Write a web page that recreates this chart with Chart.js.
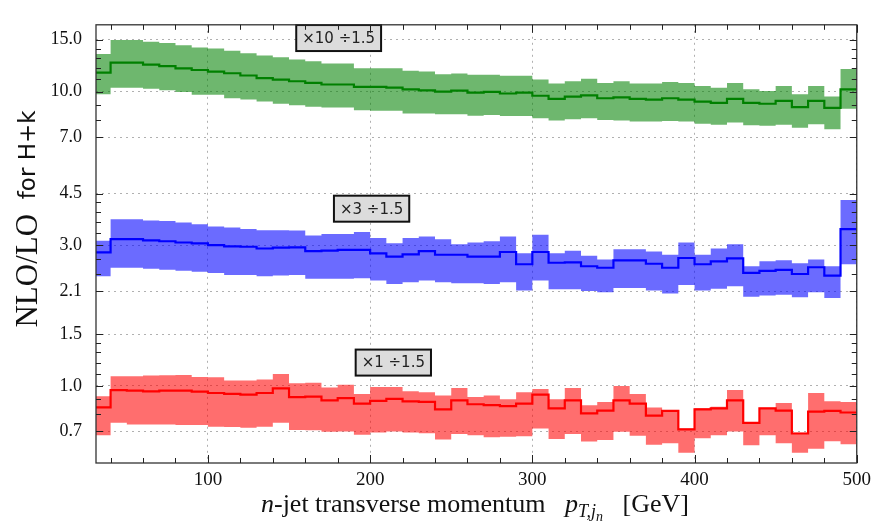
<!DOCTYPE html>
<html>
<head>
<meta charset="utf-8">
<script src="https://cdn.jsdelivr.net/npm/chart.js@4.4.0/dist/chart.umd.min.js"></script>
<style>
  html, body { margin: 0; padding: 0; background: #fff; }
  #wrap { width: 877px; height: 522px; }
</style>
</head>
<body>
<div id="wrap"><canvas id="ratioChart" width="877" height="522"></canvas></div>
<script>
// bin edges in GeV (left edge of each bin, plus the last right edge)
var binEdges = [30, 40, 50, 60, 70, 80, 90, 100, 110, 120, 130, 140, 150, 160, 170, 180,
  190, 200, 210, 220, 230, 240, 250, 260, 270, 280, 290, 300, 310, 320, 330, 340, 350,
  360, 370, 380, 390, 400, 410, 420, 430, 440, 450, 460, 470, 480, 490, 500];

var xTicks = [100, 200, 300, 400, 500];
var xMinor = [40, 60, 80, 120, 140, 160, 180, 220, 240, 260, 280, 320, 340, 360, 380,
  420, 440, 460, 480];
var yTicks = [0.7, 1.0, 1.5, 2.1, 3.0, 4.5, 7.0, 10.0, 15.0];
var yMinor = [0.8, 0.9, 1.1, 1.2, 1.3, 1.4, 2.4, 2.7, 3.3, 3.6, 3.9, 4.2,
  8, 9, 11, 12, 13, 14];

// x10 (green)
var greenMid = [11.6, 12.54, 12.54, 12.35, 12.2, 11.99, 11.84, 11.69, 11.54, 11.34, 11.11,
  10.98, 10.84, 10.7, 10.57, 10.57, 10.38, 10.38, 10.31, 10.18, 10.1, 10.0, 10.08, 9.92,
  9.97, 9.85, 9.92, 9.68, 9.44, 9.61, 9.7, 9.49, 9.56, 9.44, 9.39, 9.49, 9.39, 9.25, 9.16,
  9.44, 9.16, 9.09, 9.3, 8.86, 9.3, 8.8, 10.18];
var greenUp = [13.42, 14.96, 14.96, 14.77, 14.62, 14.37, 14.12, 14.01, 13.76, 13.49, 13.26,
  13.09, 12.86, 12.67, 12.45, 12.45, 11.99, 11.99, 11.99, 11.78, 11.69, 11.45, 11.51, 11.4,
  11.4, 11.31, 11.31, 10.98, 10.65, 10.84, 11.06, 10.7, 10.84, 10.65, 10.65, 10.78, 10.7,
  10.44, 10.31, 10.7, 10.18, 10.05, 10.44, 9.8, 10.44, 9.63, 11.93];
var greenLo = [9.8, 10.31, 10.31, 10.23, 10.1, 9.97, 9.75, 9.75, 9.49, 9.39, 9.25, 9.09,
  8.98, 8.88, 8.82, 8.82, 8.64, 8.6, 8.6, 8.43, 8.43, 8.37, 8.37, 8.28, 8.32, 8.26, 8.26,
  8.12, 7.97, 8.05, 8.12, 8.01, 7.97, 7.91, 7.91, 7.95, 7.91, 7.77, 7.72, 7.85, 7.68, 7.66,
  7.72, 7.53, 7.75, 7.45, 8.75];

// x3 (blue)
var blueMid = [2.84, 3.15, 3.15, 3.12, 3.10, 3.07, 3.05, 3.01, 2.98, 2.97, 2.93, 2.95,
  2.955, 2.87, 2.88, 2.90, 2.90, 2.82, 2.75, 2.80, 2.87, 2.79, 2.79, 2.75, 2.75, 2.85, 2.59,
  2.85, 2.62, 2.63, 2.55, 2.52, 2.67, 2.67, 2.60, 2.52, 2.72, 2.59, 2.65, 2.71, 2.42, 2.46,
  2.48, 2.40, 2.53, 2.37, 3.41];
var blueUp = [3.11, 3.68, 3.68, 3.65, 3.63, 3.59, 3.54, 3.48, 3.45, 3.41, 3.38, 3.38, 3.37,
  3.24, 3.28, 3.28, 3.33, 3.18, 3.05, 3.18, 3.22, 3.15, 3.03, 3.07, 3.10, 3.22, 2.82, 3.26,
  2.82, 2.88, 2.77, 2.69, 2.91, 2.91, 2.86, 2.79, 3.07, 2.79, 2.93, 3.03, 2.55, 2.65, 2.67,
  2.61, 2.69, 2.55, 4.28];
var blueLo = [2.36, 2.52, 2.52, 2.50, 2.48, 2.46, 2.44, 2.42, 2.38, 2.38, 2.36, 2.37, 2.38,
  2.31, 2.31, 2.31, 2.32, 2.28, 2.22, 2.25, 2.28, 2.25, 2.23, 2.23, 2.22, 2.25, 2.11, 2.28,
  2.13, 2.13, 2.10, 2.08, 2.15, 2.15, 2.11, 2.06, 2.20, 2.11, 2.14, 2.18, 2.01, 2.03, 2.04,
  2.00, 2.08, 1.99, 2.59];

// x1 (red)
var redMid = [0.845, 0.968, 0.963, 0.958, 0.963, 0.963, 0.956, 0.946, 0.939, 0.934, 0.946,
  0.980, 0.916, 0.920, 0.893, 0.909, 0.871, 0.889, 0.904, 0.886, 0.882, 0.832, 0.893, 0.866,
  0.860, 0.853, 0.871, 0.934, 0.839, 0.893, 0.807, 0.824, 0.893, 0.871, 0.793, 0.822, 0.712,
  0.832, 0.839, 0.893, 0.749, 0.839, 0.824, 0.689, 0.818, 0.822, 0.812];
var redUp = [0.923, 1.078, 1.078, 1.084, 1.087, 1.089, 1.073, 1.070, 1.044, 1.044, 1.052,
  1.098, 1.020, 1.025, 0.988, 1.008, 0.939, 0.992, 0.992, 0.958, 0.951, 0.927, 0.983, 0.916,
  0.927, 0.900, 0.951, 0.975, 0.900, 0.983, 0.860, 0.882, 1.0, 0.939, 0.845, 0.824, 0.717,
  0.839, 0.849, 0.968, 0.753, 0.843, 0.875, 0.693, 0.946, 0.886, 0.882];
var redLo = [0.680, 0.749, 0.739, 0.739, 0.739, 0.736, 0.736, 0.727, 0.725, 0.721, 0.727,
  0.749, 0.708, 0.707, 0.698, 0.700, 0.682, 0.694, 0.700, 0.694, 0.691, 0.657, 0.686, 0.680,
  0.669, 0.672, 0.674, 0.717, 0.660, 0.686, 0.647, 0.655, 0.698, 0.677, 0.631, 0.639, 0.593,
  0.664, 0.680, 0.700, 0.628, 0.680, 0.639, 0.593, 0.612, 0.649, 0.633];

var scaleLabels = ['\u00d710 \u00f71.5', '\u00d73 \u00f71.5', '\u00d71 \u00f71.5'];

function steps(vals) {
  return binEdges.map(function(e, i) {
    return { x: e, y: vals[Math.min(i, vals.length - 1)] };
  });
}

function band(up, lo, color) {
  return [{
    data: steps(up), stepped: 'before', borderWidth: 0, pointRadius: 0,
    backgroundColor: color, fill: '+1', order: 1
  }, {
    data: steps(lo), stepped: 'before', borderWidth: 0, pointRadius: 0,
    backgroundColor: color, fill: false, order: 1
  }];
}

function midLine(vals, color) {
  return {
    data: steps(vals), stepped: 'before', borderWidth: 2.2, pointRadius: 0,
    borderColor: color, fill: false, order: 0
  };
}

var datasets = [].concat(
  band(greenUp, greenLo, 'rgba(0,128,0,0.57)'),
  band(blueUp, blueLo, 'rgba(0,0,255,0.58)'),
  band(redUp, redLo, 'rgba(255,0,0,0.57)'),
  [midLine(greenMid, '#008000'), midLine(blueMid, '#0000ff'), midLine(redMid, '#ff0000')]
);

// frame, inward ticks, boxed labels and axis titles
var decorations = {
  id: 'decorations',
  afterDatasetsDraw: function(chart) {
    var ctx = chart.ctx;
    var a = chart.chartArea;
    var xs = chart.scales.x, ys = chart.scales.y;
    ctx.save();

    // boxes with the scale factors
    var boxes = [[scaleLabels[0], 180.6, 15.2], [scaleLabels[1], 200.9, 4.0], [scaleLabels[2], 214.3, 1.2]];
    ctx.font = '15px "DejaVu Sans"';
    ctx.textAlign = 'center';
    ctx.textBaseline = 'middle';
    boxes.forEach(function(b) {
      var px = xs.getPixelForValue(b[1]);
      var py = ys.getPixelForValue(b[2]);
      var w = ctx.measureText(b[0]).width + 12;
      var h = 26;
      ctx.fillStyle = '#dcdcdc';
      ctx.fillRect(px - w / 2, py - h / 2, w, h);
      ctx.lineWidth = 2;
      ctx.strokeStyle = '#111';
      ctx.strokeRect(px - w / 2, py - h / 2, w, h);
      ctx.fillStyle = '#222';
      ctx.fillText(b[0], px, py + 1);
    });

    // frame
    ctx.strokeStyle = '#333';
    ctx.lineWidth = 1.3;
    ctx.strokeRect(a.left, a.top, a.right - a.left, a.bottom - a.top);

    // inward ticks
    ctx.lineWidth = 1;
    ctx.strokeStyle = '#222';
    function xTick(v, len) {
      var p = Math.round(xs.getPixelForValue(v)) + 0.5;
      ctx.beginPath();
      ctx.moveTo(p, a.bottom); ctx.lineTo(p, a.bottom - len);
      ctx.moveTo(p, a.top); ctx.lineTo(p, a.top + len);
      ctx.stroke();
    }
    function yTick(v, len) {
      var p = Math.round(ys.getPixelForValue(v)) + 0.5;
      ctx.beginPath();
      ctx.moveTo(a.left, p); ctx.lineTo(a.left + len, p);
      ctx.moveTo(a.right, p); ctx.lineTo(a.right - len, p);
      ctx.stroke();
    }
    xTicks.forEach(function(v) { xTick(v, 8); });
    xMinor.forEach(function(v) { xTick(v, 5); });
    yTicks.forEach(function(v) { yTick(v, 7); });
    yMinor.forEach(function(v) { yTick(v, 5); });

    // x title
    ctx.fillStyle = '#111';
    ctx.textBaseline = 'alphabetic';
    ctx.textAlign = 'left';
    var fs = 26;
    var parts = [
      ['n', 'italic ' + fs + 'px "Liberation Serif"', 0],
      ['-jet transverse momentum   ', fs + 'px "Liberation Serif"', 0],
      ['p', 'italic ' + fs + 'px "Liberation Serif"', 0],
      ['T,j', 'italic ' + Math.round(fs * 0.7) + 'px "Liberation Serif"', 5],
      ['n', 'italic ' + Math.round(fs * 0.55) + 'px "Liberation Serif"', 9],
      ['   [GeV]', fs + 'px "Liberation Serif"', 0]
    ];
    var total = 0;
    parts.forEach(function(p) { ctx.font = p[1]; total += ctx.measureText(p[0]).width; });
    var x0 = 475 - total / 2;
    var base = 512;
    parts.forEach(function(p) {
      ctx.font = p[1];
      ctx.fillText(p[0], x0, base + p[2]);
      x0 += ctx.measureText(p[0]).width;
    });

    // y title (rotated)
    ctx.save();
    ctx.translate(29, 219);
    ctx.rotate(-Math.PI / 2);
    var yParts = [
      ['NLO/LO', '31px "Liberation Serif"'],
      ['  ', '23px "DejaVu Sans"'],
      ['for H+k', '23px "DejaVu Sans"']
    ];
    var yTotal = 0;
    yParts.forEach(function(p) { ctx.font = p[1]; yTotal += ctx.measureText(p[0]).width; });
    var s = -yTotal / 2;
    ctx.textBaseline = 'middle';
    yParts.forEach(function(p) {
      ctx.font = p[1];
      ctx.fillText(p[0], s, 0);
      s += ctx.measureText(p[0]).width;
    });
    ctx.restore();

    ctx.restore();
  }
};

var ctx = document.getElementById('ratioChart');
var ratioChart = new Chart(ctx, {
  type: 'line',
  data: { datasets: datasets },
  options: {
    responsive: false,
    animation: false,
    layout: { padding: { top: 9, right: 18, left: 0, bottom: 0 } },
    plugins: { legend: { display: false }, tooltip: { enabled: false } },
    scales: {
      x: {
        type: 'linear', min: 31, max: 500,
        afterFit: function(s) { s.height = 59; },
        afterBuildTicks: function(s) { s.ticks = xTicks.map(function(v) { return { value: v }; }); },
        grid: { color: '#b0b0b0', lineWidth: 1, drawTicks: false },
        border: { display: false, dash: [2, 4] },
        ticks: {
          autoSkip: false, maxRotation: 0, padding: 6, color: '#111',
          font: { family: 'Liberation Serif', size: 19 },
          callback: function(v) { return String(v); }
        }
      },
      y: {
        type: 'logarithmic', min: 0.547, max: 16.86,
        afterFit: function(s) { s.width = 96; },
        afterBuildTicks: function(s) { s.ticks = yTicks.map(function(v) { return { value: v }; }); },
        grid: { color: '#b0b0b0', lineWidth: 1, drawTicks: false },
        border: { display: false, dash: [2, 4] },
        ticks: {
          autoSkip: false, padding: 14, color: '#111',
          font: { family: 'Liberation Serif', size: 18 },
          callback: function(v) { return Number(v).toFixed(1); }
        }
      }
    }
  },
  plugins: [decorations]
});
</script>
</body>
</html>
